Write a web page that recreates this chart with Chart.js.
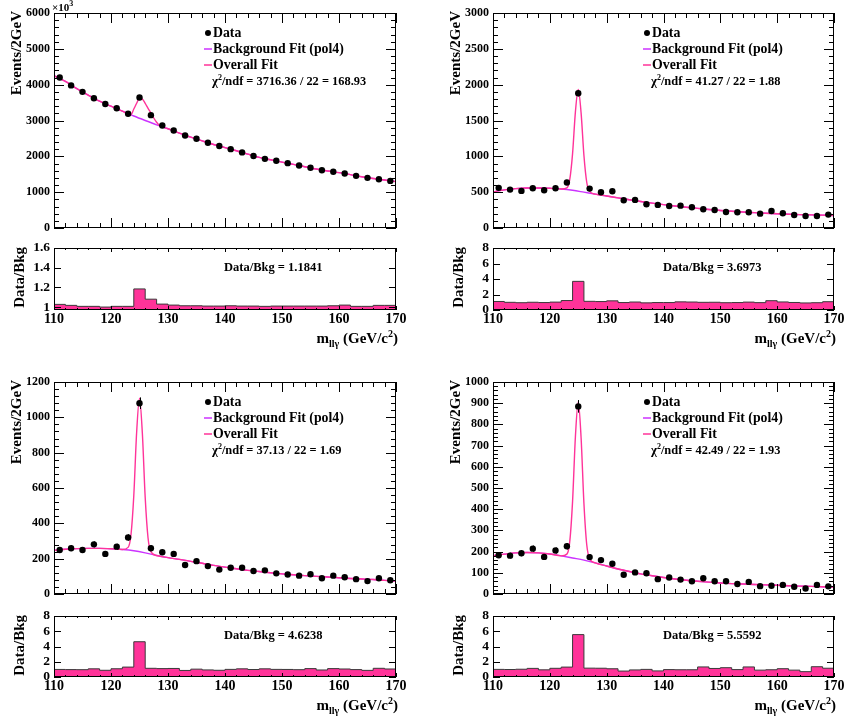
<!DOCTYPE html>
<html>
<head>
<meta charset="utf-8">
<script src="https://cdn.jsdelivr.net/npm/chart.js@4.4.1/dist/chart.umd.min.js"></script>
<style>
  body { margin: 0; background: #fff; }
  #page { position: relative; width: 844px; height: 721px; overflow: hidden; }
  #page canvas { position: absolute; }
</style>
</head>
<body>
<div id="page"></div>
<script>
// m(llγ) spectra, 2 GeV bins from 110 to 170
const massBins = [111, 113, 115, 117, 119, 121, 123, 125, 127, 129, 131, 133, 135, 137, 139,
                  141, 143, 145, 147, 149, 151, 153, 155, 157, 159, 161, 163, 165, 167, 169];
const binEdges = [110, 112, 114, 116, 118, 120, 122, 124, 126, 128, 130, 132, 134, 136, 138, 140,
                  142, 144, 146, 148, 150, 152, 154, 156, 158, 160, 162, 164, 166, 168, 170];
const massTicks = [110, 120, 130, 140, 150, 160, 170];

// top left (axis in units of 10^3 events)
const p1Data = [4200, 3980, 3800, 3620, 3460, 3340, 3190, 3640, 3150, 2860, 2720, 2580, 2490, 2380, 2290,
                2200, 2110, 2010, 1930, 1875, 1810, 1745, 1680, 1610, 1570, 1520, 1455, 1400, 1360, 1315];
const p1Bkg = [4250, 4090, 3890, 3710, 3540, 3400, 3260, 3125, 3000, 2880, 2770, 2650, 2535, 2430, 2330, 2245,
               2155, 2060, 1970, 1905, 1840, 1775, 1710, 1645, 1590, 1545, 1490, 1430, 1380, 1340, 1290];
const p1PeakX = [123.5, 124, 124.5, 125, 125.5, 126, 126.5, 127, 127.5, 128, 128.5];
const p1PeakY = [3165, 3320, 3480, 3630, 3600, 3480, 3340, 3210, 3070, 2950, 2860];
const p1Ratio = [1.027, 1.017, 1.007, 1.007, 1.0, 1.007, 1.007, 1.1841, 1.08, 1.03, 1.02, 1.013, 1.013, 1.01, 1.01,
                 1.013, 1.01, 1.01, 1.007, 1.01, 1.01, 1.01, 1.01, 1.01, 1.013, 1.02, 1.007, 1.007, 1.017, 1.017];
const p1YTicks = [0, 1000, 2000, 3000, 4000, 5000, 6000];
const p1RatioTicks = [1, 1.2, 1.4, 1.6];
const p1Chi2 = [3716.36, 22, 168.93];

// top right
const p2Data = [560, 536, 518, 555, 527, 555, 634, 1880, 550, 499, 513, 387, 392, 331, 322,
                308, 312, 289, 261, 252, 224, 219, 219, 200, 238, 205, 182, 168, 168, 187];
const p2Bkg = [504, 532, 550, 558, 559, 554, 545, 527, 500, 472, 447, 421, 395, 370, 347, 326,
               307, 290, 274, 258, 245, 233, 223, 214, 205, 198, 192, 187, 183, 179, 175];
const p2PeakX = [123, 123.5, 124, 124.5, 125, 125.5, 126, 126.5, 127];
const p2PeakY = [560, 674, 1038, 1621, 1934, 1607, 1011, 635, 510];
const p2Ratio = [1.1, 0.99, 0.94, 1.0, 0.96, 1.02, 1.22, 3.6973, 1.12, 1.09, 1.18, 0.96, 1.03, 0.92, 0.96,
                 0.96, 1.05, 1.03, 0.99, 1.0, 0.94, 0.96, 1.02, 0.95, 1.2, 1.04, 0.97, 0.91, 0.94, 1.07];
const p2YTicks = [0, 500, 1000, 1500, 2000, 2500, 3000];
const p2Chi2 = [41.27, 22, 1.88];

// bottom left
const p3Data = [249, 259, 249, 281, 227, 268, 320, 1080, 259, 236, 227, 164, 186, 158, 138,
                149, 149, 130, 134, 117, 110, 104, 112, 89, 104, 95, 84, 73, 89, 78];
const p3Bkg = [247, 253, 257, 258, 258, 256, 252, 245, 233, 218, 206, 196, 185, 174, 162, 152,
               143, 134, 127, 120, 114, 109, 104, 100, 96, 92, 88, 85, 82, 77, 73];
const p3PeakX = [123, 123.5, 124, 124.5, 125, 125.5, 126, 126.5, 127];
const p3PeakY = [264, 334, 558, 916, 1109, 910, 546, 317, 240];
const p3Ratio = [0.99, 0.97, 0.96, 1.07, 0.88, 1.08, 1.3, 4.6238, 1.14, 1.1, 1.12, 0.86, 1.03, 0.93, 0.88,
                 1.0, 1.07, 0.98, 1.07, 1.0, 0.99, 0.96, 1.1, 0.92, 1.1, 1.05, 0.97, 0.87, 1.14, 1.05];
const p3YTicks = [0, 200, 400, 600, 800, 1000, 1200];
const p3Chi2 = [37.13, 22, 1.69];

// bottom right
const p4Data = [183, 181, 192, 214, 175, 205, 225, 885, 174, 160, 143, 91, 102, 98, 70,
                78, 68, 60, 74, 60, 60, 47, 57, 37, 39, 43, 34, 26, 43, 36];
const p4Bkg = [181, 188, 194, 196, 194, 189, 180, 170, 160, 147, 132, 118, 106, 95, 86, 78,
               71, 65, 60, 56, 52, 49, 47, 45, 43, 41, 39, 37, 36, 34, 33];
const p4PeakX = [123, 123.5, 124, 124.5, 125, 125.5, 126, 126.5, 127];
const p4PeakY = [188, 246, 437, 742, 907, 737, 427, 231, 167];
const p4Ratio = [1.0, 0.98, 1.02, 1.13, 0.94, 1.14, 1.3, 5.5592, 1.16, 1.15, 1.08, 0.78, 0.93, 1.0, 0.8,
                 0.97, 0.95, 0.95, 1.32, 1.12, 1.22, 0.97, 1.32, 0.9, 0.95, 1.09, 0.9, 0.7, 1.35, 1.15];
const p4YTicks = [0, 100, 200, 300, 400, 500, 600, 700, 800, 900, 1000];
const p4Chi2 = [42.49, 22, 1.93];

const ratioTicks = [0, 2, 4, 6, 8];

const FONT = "'Liberation Serif', 'Times New Roman', serif";
const HIST_FILL = '#ff3399';
const HIST_LINE = '#3a3a3a';
const BKG_COLOR = '#cc33ff';
const FIT_COLOR = '#ff3399';

Chart.defaults.font.family = FONT;
Chart.defaults.font.weight = 'bold';
Chart.defaults.color = '#000';

const panels = [
  { ox: 0, oy: 0, mainH: 238, ratioH: 122, f: { l: 54, r: 396, t: 13, b: 228 }, rf: { t: 248, b: 310 },
    data: p1Data, bkg: p1Bkg, peakX: p1PeakX, peakY: p1PeakY, ratio: p1Ratio, chi2: p1Chi2,
    yTicks: p1YTicks, rTicks: p1RatioTicks, rMin: 0.97, countScale: 1000, exp: true },
  { ox: 422, oy: 0, mainH: 238, ratioH: 122, f: { l: 493, r: 834, t: 13, b: 228 }, rf: { t: 248, b: 310 },
    data: p2Data, bkg: p2Bkg, peakX: p2PeakX, peakY: p2PeakY, ratio: p2Ratio, chi2: p2Chi2,
    yTicks: p2YTicks, rTicks: ratioTicks, rMin: 0, countScale: 1 },
  { ox: 0, oy: 360, mainH: 238, ratioH: 123, f: { l: 54, r: 396, t: 382, b: 597 }, rf: { t: 616, b: 677 },
    data: p3Data, bkg: p3Bkg, peakX: p3PeakX, peakY: p3PeakY, ratio: p3Ratio, chi2: p3Chi2,
    yTicks: p3YTicks, rTicks: ratioTicks, rMin: 0, countScale: 1 },
  { ox: 422, oy: 360, mainH: 238, ratioH: 123, f: { l: 493, r: 834, t: 382, b: 597 }, rf: { t: 616, b: 677 },
    data: p4Data, bkg: p4Bkg, peakX: p4PeakX, peakY: p4PeakY, ratio: p4Ratio, chi2: p4Chi2,
    yTicks: p4YTicks, rTicks: ratioTicks, rMin: 0, countScale: 1 }
];

const page = document.getElementById('page');

function addCanvas(x, y, w, h) {
  const c = document.createElement('canvas');
  c.width = w;
  c.height = h;
  c.style.left = x + 'px';
  c.style.top = y + 'px';
  c.style.width = w + 'px';
  c.style.height = h + 'px';
  page.appendChild(c);
  return c;
}

function font(size) {
  return 'bold ' + size + 'px ' + FONT;
}

// draws pieces of text one after another; each piece is [text, size, dy]
function richText(ctx, parts, x, y, align) {
  let w = 0;
  parts.forEach(p => { ctx.font = font(p[1]); w += ctx.measureText(p[0]).width; });
  let cx = align === 'right' ? x - w : x;
  ctx.textAlign = 'left';
  ctx.textBaseline = 'alphabetic';
  parts.forEach(p => {
    ctx.font = font(p[1]);
    ctx.fillText(p[0], cx, y + (p[2] || 0));
    cx += ctx.measureText(p[0]).width;
  });
}

function vTitle(ctx, text, x, yTop, size) {
  ctx.save();
  ctx.translate(x, yTop);
  ctx.rotate(-Math.PI / 2);
  ctx.font = font(size);
  ctx.textAlign = 'right';
  ctx.textBaseline = 'middle';
  ctx.fillText(text, 0, 0);
  ctx.restore();
}

// majors from a list, minors splitting each major step into `sub` pieces
function tickList(majors, sub, min, max) {
  const out = majors.filter(v => v >= min - 1e-9 && v <= max + 1e-9).map(v => [v, true]);
  if (sub > 1) {
    const step = (majors[1] - majors[0]) / sub;
    for (let v = majors[0] - step; v >= min - 1e-9; v -= step) out.push([v, false]);
    for (let i = 0; i < majors.length; i++) {
      for (let k = 1; k < sub; k++) {
        const v = majors[i] + k * step;
        if (v <= max + 1e-9) out.push([v, false]);
      }
    }
  }
  return out;
}

function drawFrame(chart, cfg) {
  const ctx = chart.ctx;
  const { left, right, top, bottom } = chart.chartArea;
  const xs = chart.scales.x, ys = chart.scales.y;
  ctx.save();
  ctx.strokeStyle = '#000';
  ctx.lineWidth = 1;
  ctx.beginPath();
  tickList(massTicks, 5, xs.min, xs.max).forEach(([v, major]) => {
    const px = Math.round(xs.getPixelForValue(v)) + 0.5;
    const len = major ? cfg.ticks[0] : cfg.ticks[1];
    ctx.moveTo(px, bottom); ctx.lineTo(px, bottom - len);
    ctx.moveTo(px, top); ctx.lineTo(px, top + len);
  });
  tickList(cfg.yTicks, cfg.ySub, ys.min, ys.max).forEach(([v, major]) => {
    const py = Math.round(ys.getPixelForValue(v)) + 0.5;
    const len = major ? cfg.ticks[2] : cfg.ticks[3];
    ctx.moveTo(left, py); ctx.lineTo(left + len, py);
    ctx.moveTo(right, py); ctx.lineTo(right - len, py);
  });
  ctx.stroke();
  ctx.strokeRect(Math.round(left) + 0.5, Math.round(top) + 0.5,
                 Math.round(right - left) - 1, Math.round(bottom - top) - 1);
  ctx.restore();
}

// Poisson error bars on the data points
function drawErrors(chart, cfg) {
  const ctx = chart.ctx;
  const ys = chart.scales.y;
  const ds = chart.data.datasets[0];
  const meta = chart.getDatasetMeta(0);
  ctx.save();
  ctx.strokeStyle = '#000';
  ctx.lineWidth = 1;
  ctx.beginPath();
  meta.data.forEach((pt, i) => {
    const v = ds.data[i].y;
    const err = Math.sqrt(v * cfg.countScale) / cfg.countScale;
    const px = Math.round(pt.x) + 0.5;
    ctx.moveTo(px, ys.getPixelForValue(v + err));
    ctx.lineTo(px, ys.getPixelForValue(v - err));
  });
  ctx.stroke();
  ctx.restore();
}

function rootPlugin(cfg) {
  return {
    id: 'rootStyle',
    afterDatasetsDraw(chart) {
      if (cfg.errors) drawErrors(chart, cfg);
    },
    afterDraw(chart) {
      drawFrame(chart, cfg);
      const ctx = chart.ctx;
      ctx.save();
      ctx.translate(-cfg.org.x, -cfg.org.y);
      ctx.fillStyle = '#000';
      cfg.decorate(ctx);
      ctx.restore();
    }
  };
}

function overallFit(bkg, peakX, peakY) {
  const lo = peakX[0], hi = peakX[peakX.length - 1];
  const pts = binEdges.map((x, i) => ({ x, y: bkg[i] })).filter(p => p.x < lo || p.x > hi);
  peakX.forEach((x, i) => pts.push({ x, y: peakY[i] }));
  return pts.sort((a, b) => a.x - b.x);
}

function xScale(extra) {
  return Object.assign({
    type: 'linear', min: 110, max: 170,
    grid: { display: false, drawTicks: false },
    border: { display: false }
  }, extra);
}

panels.forEach(p => {
  const f = p.f;
  const W = 422;

  // upper pad: data, background and overall fit
  const mainCanvas = addCanvas(p.ox, p.oy, W, p.mainH);
  new Chart(mainCanvas, {
    type: 'line',
    data: {
      datasets: [
        { data: massBins.map((x, i) => ({ x, y: p.data[i] })), showLine: false,
          pointRadius: 3.2, pointBackgroundColor: '#000', pointBorderColor: '#000', pointBorderWidth: 0, order: 0 },
        { data: overallFit(p.bkg, p.peakX, p.peakY), borderColor: FIT_COLOR, borderWidth: 1.4,
          pointRadius: 0, cubicInterpolationMode: 'monotone', order: 1 },
        { data: binEdges.map((x, i) => ({ x, y: p.bkg[i] })), borderColor: BKG_COLOR, borderWidth: 1.4,
          pointRadius: 0, cubicInterpolationMode: 'monotone', order: 2 }
      ]
    },
    options: {
      responsive: false, animation: false, devicePixelRatio: 1,
      layout: { padding: { left: 0, top: f.t - p.oy, right: p.ox + W - f.r, bottom: 0 } },
      plugins: { legend: { display: false }, tooltip: { enabled: false } },
      scales: {
        x: xScale({
          ticks: { display: false },
          afterFit: s => { s.height = p.oy + p.mainH - f.b; s.paddingLeft = 0; s.paddingRight = 0; }
        }),
        y: {
          type: 'linear', min: 0, max: p.yTicks[p.yTicks.length - 1],
          grid: { display: false, drawTicks: false }, border: { display: false },
          ticks: { padding: 4, autoSkip: false, font: { size: 12, weight: 'bold' }, color: '#000',
                   callback: v => String(v) },
          afterBuildTicks: s => { s.ticks = p.yTicks.map(v => ({ value: v })); },
          afterFit: s => { s.width = f.l - p.ox; s.paddingTop = 0; s.paddingBottom = 0; }
        }
      }
    },
    plugins: [rootPlugin({
      org: { x: p.ox, y: p.oy }, yTicks: p.yTicks, ySub: 5, ticks: [10, 5, 10, 5],
      errors: true, countScale: p.countScale,
      decorate(ctx) {
        const ly = f.t + 20;
        const tx = f.l + 159;
        // legend
        ctx.beginPath();
        ctx.arc(f.l + 154, ly, 3, 0, Math.PI * 2);
        ctx.fill();
        ctx.lineWidth = 1.5;
        ctx.strokeStyle = BKG_COLOR;
        ctx.beginPath(); ctx.moveTo(f.l + 150, ly + 16); ctx.lineTo(f.l + 158, ly + 16); ctx.stroke();
        ctx.strokeStyle = FIT_COLOR;
        ctx.beginPath(); ctx.moveTo(f.l + 150, ly + 32); ctx.lineTo(f.l + 158, ly + 32); ctx.stroke();
        ctx.font = font(13.8);
        ctx.textAlign = 'left';
        ctx.textBaseline = 'middle';
        ctx.fillText('Data', tx, ly);
        ctx.fillText('Background Fit (pol4)', tx, ly + 16);
        ctx.fillText('Overall Fit', tx, ly + 32);
        const c = p.chi2;
        richText(ctx, [['χ', 12.8], ['2', 8, -5],
          ['/ndf = ' + c[0].toFixed(2) + ' / ' + c[1] + ' = ' + c[2].toFixed(2), 12.4]], f.l + 158, ly + 52);
        vTitle(ctx, 'Events/2GeV', f.l - 37, f.t - 2, 15);
        if (p.exp) richText(ctx, [['×10', 11], ['3', 8, -5]], f.l - 2, f.t - 2);
      }
    })]
  });

  // lower pad: data over background ratio, one step per bin
  const ry = p.oy + p.mainH;
  const ratioCanvas = addCanvas(p.ox, ry, W, p.ratioH);
  new Chart(ratioCanvas, {
    type: 'line',
    data: {
      datasets: [{
        data: binEdges.map((x, i) => ({ x, y: p.ratio[Math.min(i, p.ratio.length - 1)] })),
        stepped: 'before', fill: 'start', backgroundColor: HIST_FILL, borderColor: HIST_LINE,
        borderWidth: 1, pointRadius: 0
      }]
    },
    options: {
      responsive: false, animation: false, devicePixelRatio: 1,
      layout: { padding: { left: 0, top: p.rf.t - ry, right: p.ox + W - f.r, bottom: 0 } },
      plugins: { legend: { display: false }, tooltip: { enabled: false } },
      scales: {
        x: xScale({
          ticks: { padding: 1, autoSkip: false, maxRotation: 0, font: { size: 14, weight: 'bold' },
                   color: '#000', callback: v => String(v) },
          afterBuildTicks: s => { s.ticks = massTicks.map(v => ({ value: v })); },
          afterFit: s => { s.height = ry + p.ratioH - p.rf.b; s.paddingLeft = 0; s.paddingRight = 0; }
        }),
        y: {
          type: 'linear', min: p.rMin, max: p.rTicks[p.rTicks.length - 1],
          grid: { display: false, drawTicks: false }, border: { display: false },
          ticks: { padding: 4, autoSkip: false, font: { size: 13.5, weight: 'bold' }, color: '#000',
                   callback: v => String(v) },
          afterBuildTicks: s => { s.ticks = p.rTicks.map(v => ({ value: v })); },
          afterFit: s => { s.width = f.l - p.ox; s.paddingTop = 0; s.paddingBottom = 0; }
        }
      }
    },
    plugins: [rootPlugin({
      org: { x: p.ox, y: ry }, yTicks: p.rTicks, ySub: 1, ticks: [4, 2, 7, 4],
      decorate(ctx) {
        ctx.font = font(12.5);
        ctx.textAlign = 'left';
        ctx.textBaseline = 'middle';
        ctx.fillText('Data/Bkg = ' + p.ratio[7].toFixed(4), f.l + 170, p.rf.t + 19.5);
        vTitle(ctx, 'Data/Bkg', f.l - 34, p.rf.t - 1, 15);
        richText(ctx, [['m', 15], ['llγ', 10, 4], [' (GeV/c', 15], ['2', 10, -6], [')', 15]],
                 f.r + 2, p.rf.b + 33, 'right');
      }
    })]
  });
});
</script>
</body>
</html>
